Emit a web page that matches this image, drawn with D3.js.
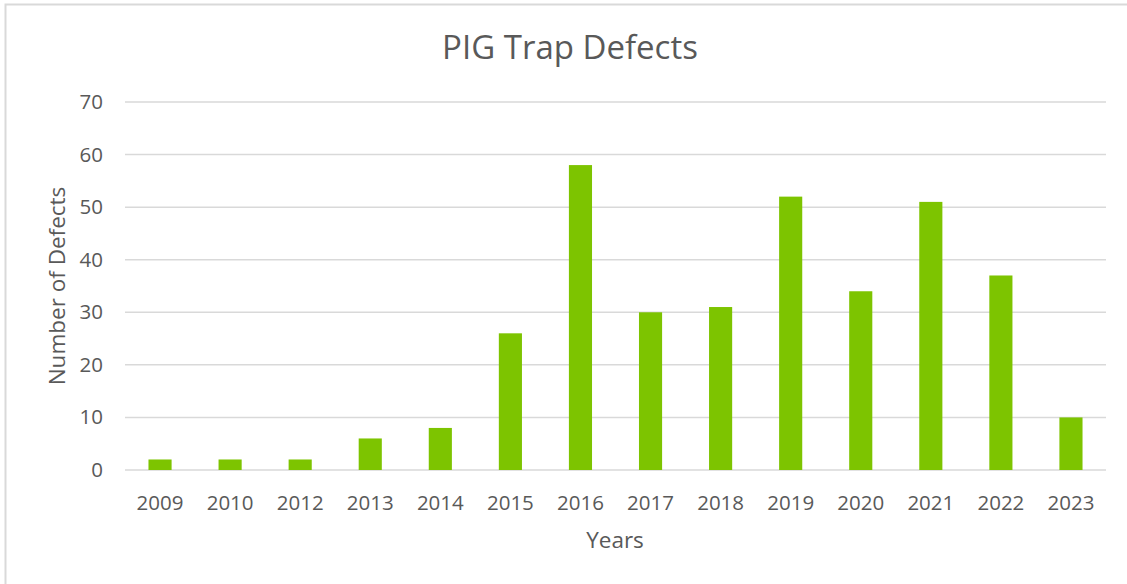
<!DOCTYPE html>
<html>
<head>
<meta charset="utf-8">
<script src="https://cdn.jsdelivr.net/npm/d3@7"></script>
<style>
  body { margin: 0; background: #fff; }
  svg { display: block; }
  svg text { font-family: "Open Sans", "Liberation Sans", sans-serif; }
</style>
</head>
<body>
<svg id="chart" width="1127" height="584"></svg>
<script>
const years = ['2009', '2010', '2012', '2013', '2014', '2015', '2016',
               '2017', '2018', '2019', '2020', '2021', '2022', '2023'];
const defects = [2, 2, 2, 6, 8, 26, 58, 30, 31, 52, 34, 51, 37, 10];
const yTicks = [0, 10, 20, 30, 40, 50, 60, 70];

const svg = d3.select('#chart');
const textColor = '#595959';

// outer frame, right/bottom edges fall outside the picture
svg.append('rect')
  .attr('x', 5.5).attr('y', 4.5)
  .attr('width', 1140).attr('height', 600)
  .attr('fill', '#fff')
  .attr('stroke', '#d9d9d9')
  .attr('stroke-width', 2);

const margin = {top: 102, right: 21, bottom: 114, left: 125};
const width = 1127 - margin.left - margin.right,
      height = 584 - margin.top - margin.bottom;

const g = svg.append('g').attr('transform', `translate(${margin.left},${margin.top})`);

const x = d3.scaleBand().domain(years).range([0, width]).paddingInner(0.67).paddingOuter(0.335);
const y = d3.scaleLinear().domain([0, 70]).range([height, 0]);

// gridlines
g.selectAll('.grid')
  .data(yTicks)
  .enter().append('line')
    .attr('class', 'grid')
    .attr('x1', 0).attr('x2', width)
    .attr('y1', d => y(d)).attr('y2', d => y(d))
    .attr('stroke', '#d9d9d9')
    .attr('stroke-width', 1.5);

// y axis
const yAxis = g.append('g')
  .call(d3.axisLeft(y).tickValues(yTicks).tickSize(0).tickPadding(22));
yAxis.select('.domain').remove();
yAxis.attr('font-family', null).attr('font-size', null);
yAxis.selectAll('text')
  .attr('fill', textColor)
  .style('font-size', '20.5px');

// x axis
const xAxis = g.append('g')
  .attr('transform', `translate(0,${height})`)
  .call(d3.axisBottom(x).tickSize(0).tickPadding(25));
xAxis.select('.domain').remove();
xAxis.attr('font-family', null).attr('font-size', null);
xAxis.selectAll('text')
  .attr('fill', textColor)
  .style('font-size', '20.5px');

// bars
g.selectAll('.bar')
  .data(defects)
  .enter().append('rect')
    .attr('class', 'bar')
    .attr('x', (d, i) => x(years[i]))
    .attr('width', x.bandwidth())
    .attr('y', d => y(d))
    .attr('height', d => height - y(d))
    .attr('fill', '#7dc400');

// titles
svg.append('text')
  .attr('x', 570).attr('y', 59)
  .attr('text-anchor', 'middle')
  .attr('fill', textColor)
  .style('font-size', '33px')
  .text('PIG Trap Defects');

svg.append('text')
  .attr('x', 615).attr('y', 548)
  .attr('text-anchor', 'middle')
  .attr('fill', textColor)
  .style('font-size', '22.5px')
  .text('Years');

svg.append('text')
  .attr('transform', 'translate(65,286) rotate(-90)')
  .attr('text-anchor', 'middle')
  .attr('fill', textColor)
  .style('font-size', '22.5px')
  .text('Number of Defects');
</script>
</body>
</html>
